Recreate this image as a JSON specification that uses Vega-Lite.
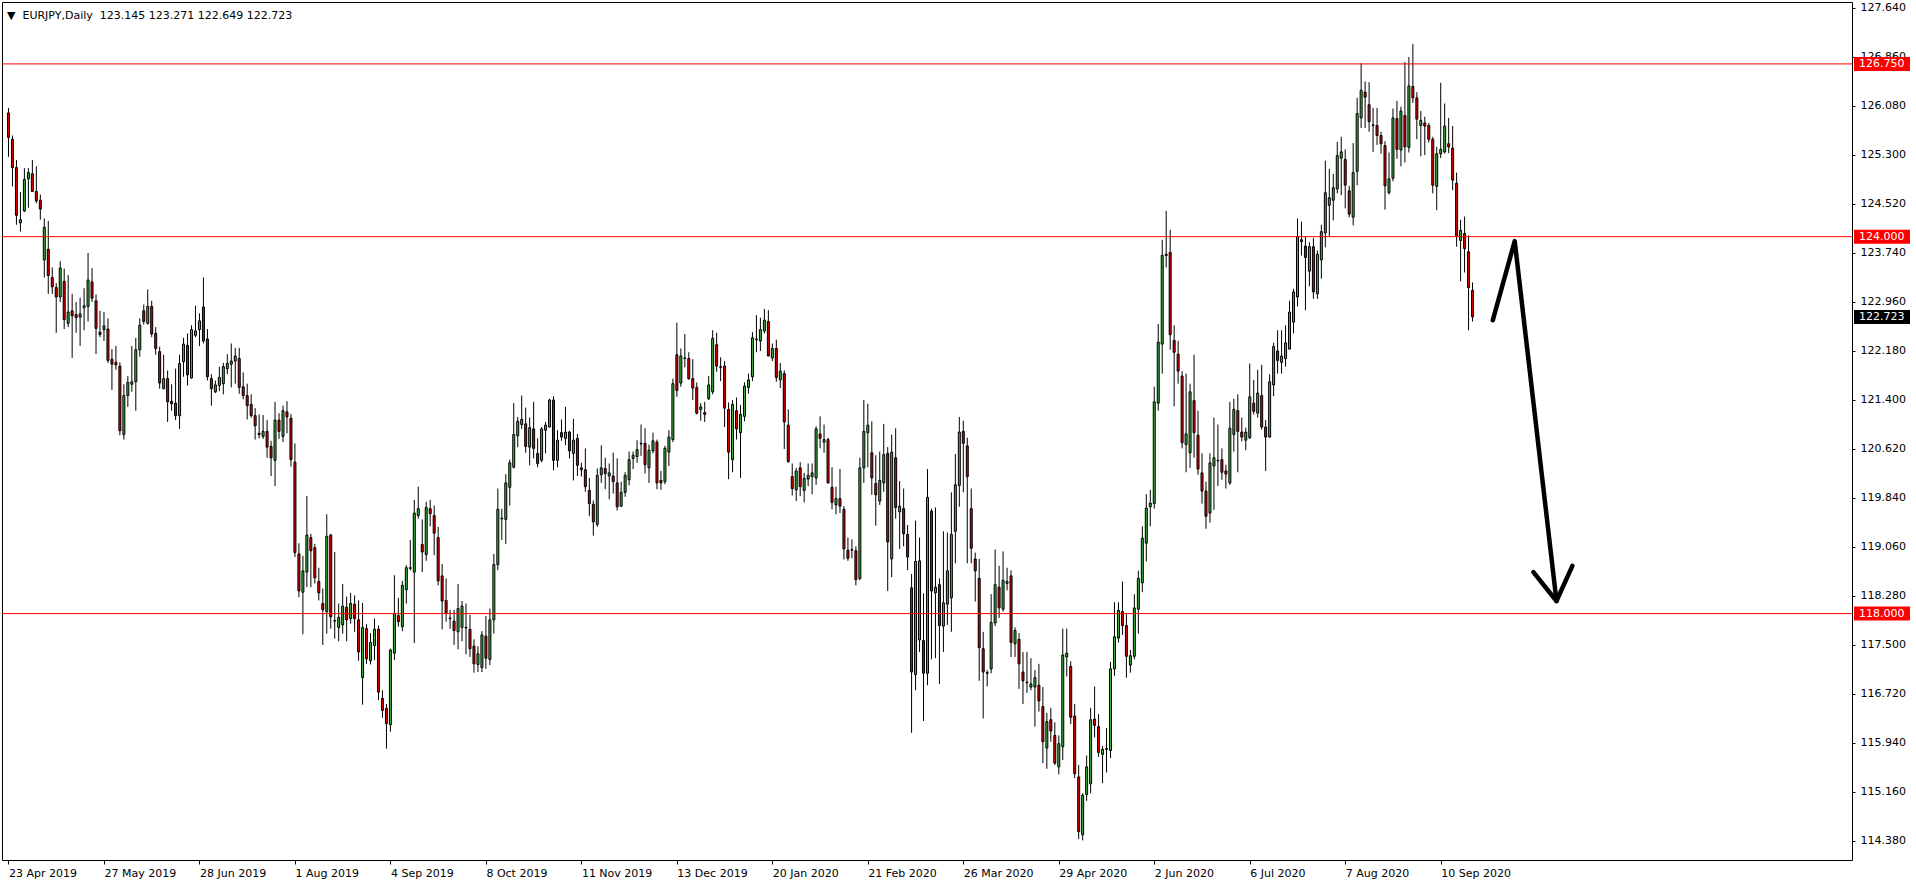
{
"$schema": "https://vega.github.io/schema/vega-lite/v6.json",
"width": 1850,
"height": 858,
"autosize": {"type": "none"},
"padding": {"left": 2, "top": 2, "right": 64, "bottom": 24},
"background": "#ffffff",
"config": {"view": {"stroke": "#000000", "strokeWidth": 1}, "font": "DejaVu Sans"},
"title": {"text": "\u25bc\u00a0\u00a0EURJPY,Daily\u00a0\u00a0123.145 123.271 122.649 122.723", "anchor": "start", "frame": "group", "orient": "top", "offset": -15, "dx": 5, "dy": 13, "baseline": "alphabetic", "font": "DejaVu Sans", "fontSize": 11, "fontWeight": "normal", "color": "#000000"},
"datasets": {
"bars": [
{"d":"2019-04-23","o":125.97,"h":126.05,"l":125.27,"c":125.58},
{"d":"2019-04-24","o":125.55,"h":125.61,"l":124.80,"c":125.10},
{"d":"2019-04-25","o":125.10,"h":125.22,"l":124.19,"c":124.34},
{"d":"2019-04-26","o":124.22,"h":124.71,"l":124.08,"c":124.27},
{"d":"2019-04-29","o":124.41,"h":125.09,"l":124.39,"c":124.91},
{"d":"2019-04-30","o":124.92,"h":125.09,"l":124.46,"c":125.02},
{"d":"2019-05-01","o":125.00,"h":125.22,"l":124.71,"c":124.72},
{"d":"2019-05-02","o":124.72,"h":125.12,"l":124.53,"c":124.57},
{"d":"2019-05-03","o":124.58,"h":124.67,"l":124.27,"c":124.44},
{"d":"2019-05-06","o":123.63,"h":124.29,"l":123.35,"c":124.15},
{"d":"2019-05-07","o":123.80,"h":124.25,"l":123.09,"c":123.38},
{"d":"2019-05-08","o":123.35,"h":123.51,"l":123.09,"c":123.20},
{"d":"2019-05-09","o":123.19,"h":123.26,"l":122.47,"c":123.04},
{"d":"2019-05-10","o":123.04,"h":123.61,"l":122.96,"c":123.50},
{"d":"2019-05-13","o":123.29,"h":123.49,"l":122.53,"c":122.68},
{"d":"2019-05-14","o":122.62,"h":123.39,"l":122.56,"c":122.80},
{"d":"2019-05-15","o":122.82,"h":123.09,"l":122.07,"c":122.74},
{"d":"2019-05-16","o":122.76,"h":122.96,"l":122.47,"c":122.71},
{"d":"2019-05-17","o":122.72,"h":123.03,"l":122.26,"c":122.77},
{"d":"2019-05-20","o":122.87,"h":123.18,"l":122.51,"c":122.90},
{"d":"2019-05-21","o":122.89,"h":123.74,"l":122.65,"c":123.31},
{"d":"2019-05-22","o":123.28,"h":123.50,"l":122.96,"c":123.02},
{"d":"2019-05-23","o":122.98,"h":123.08,"l":122.13,"c":122.54},
{"d":"2019-05-24","o":122.48,"h":122.82,"l":122.40,"c":122.44},
{"d":"2019-05-27","o":122.52,"h":122.80,"l":122.34,"c":122.58},
{"d":"2019-05-28","o":122.53,"h":122.70,"l":121.99,"c":122.03},
{"d":"2019-05-29","o":122.05,"h":122.21,"l":121.56,"c":121.97},
{"d":"2019-05-30","o":122.00,"h":122.26,"l":121.88,"c":121.96},
{"d":"2019-05-31","o":121.94,"h":122.00,"l":120.84,"c":120.91},
{"d":"2019-06-03","o":120.85,"h":121.65,"l":120.77,"c":121.47},
{"d":"2019-06-04","o":121.47,"h":121.78,"l":121.29,"c":121.68},
{"d":"2019-06-05","o":121.65,"h":122.26,"l":121.53,"c":121.69},
{"d":"2019-06-06","o":121.69,"h":122.39,"l":121.23,"c":122.20},
{"d":"2019-06-07","o":122.20,"h":122.70,"l":122.09,"c":122.59},
{"d":"2019-06-10","o":122.82,"h":122.92,"l":122.60,"c":122.65},
{"d":"2019-06-11","o":122.62,"h":123.16,"l":122.60,"c":122.89},
{"d":"2019-06-12","o":122.89,"h":122.98,"l":122.40,"c":122.45},
{"d":"2019-06-13","o":122.46,"h":122.56,"l":122.12,"c":122.22},
{"d":"2019-06-14","o":122.17,"h":122.25,"l":121.58,"c":121.67},
{"d":"2019-06-17","o":121.58,"h":122.12,"l":121.57,"c":121.74},
{"d":"2019-06-18","o":121.74,"h":121.87,"l":121.05,"c":121.37},
{"d":"2019-06-19","o":121.38,"h":121.65,"l":121.23,"c":121.34},
{"d":"2019-06-20","o":121.35,"h":121.90,"l":121.08,"c":121.15},
{"d":"2019-06-21","o":121.15,"h":122.12,"l":120.94,"c":121.98},
{"d":"2019-06-24","o":122.01,"h":122.39,"l":121.77,"c":122.29},
{"d":"2019-06-25","o":122.27,"h":122.46,"l":121.63,"c":121.80},
{"d":"2019-06-26","o":121.75,"h":122.59,"l":121.74,"c":122.52},
{"d":"2019-06-27","o":122.43,"h":122.90,"l":122.40,"c":122.50},
{"d":"2019-06-28","o":122.52,"h":122.78,"l":122.26,"c":122.66},
{"d":"2019-07-01","o":122.88,"h":123.35,"l":122.30,"c":122.34},
{"d":"2019-07-02","o":122.37,"h":122.53,"l":121.71,"c":121.77},
{"d":"2019-07-03","o":121.74,"h":121.81,"l":121.31,"c":121.58},
{"d":"2019-07-04","o":121.53,"h":121.71,"l":121.51,"c":121.64},
{"d":"2019-07-05","o":121.63,"h":121.93,"l":121.54,"c":121.76},
{"d":"2019-07-08","o":121.66,"h":121.99,"l":121.49,"c":121.93},
{"d":"2019-07-09","o":121.90,"h":122.13,"l":121.81,"c":121.98},
{"d":"2019-07-10","o":121.97,"h":122.30,"l":121.60,"c":122.02},
{"d":"2019-07-11","o":122.02,"h":122.23,"l":121.66,"c":122.10},
{"d":"2019-07-12","o":122.06,"h":122.23,"l":121.50,"c":121.60},
{"d":"2019-07-15","o":121.61,"h":121.84,"l":121.41,"c":121.47},
{"d":"2019-07-16","o":121.47,"h":121.66,"l":121.09,"c":121.31},
{"d":"2019-07-17","o":121.33,"h":121.49,"l":121.12,"c":121.15},
{"d":"2019-07-18","o":121.15,"h":121.27,"l":120.77,"c":120.99},
{"d":"2019-07-19","o":120.87,"h":121.17,"l":120.79,"c":120.85},
{"d":"2019-07-22","o":120.82,"h":121.16,"l":120.78,"c":120.90},
{"d":"2019-07-23","o":120.90,"h":121.08,"l":120.48,"c":120.65},
{"d":"2019-07-24","o":120.66,"h":120.75,"l":120.19,"c":120.48},
{"d":"2019-07-25","o":120.44,"h":121.37,"l":120.03,"c":121.08},
{"d":"2019-07-26","o":121.08,"h":121.19,"l":120.78,"c":120.90},
{"d":"2019-07-29","o":120.82,"h":121.31,"l":120.73,"c":121.23},
{"d":"2019-07-30","o":121.21,"h":121.38,"l":120.87,"c":121.13},
{"d":"2019-07-31","o":121.11,"h":121.18,"l":120.34,"c":120.45},
{"d":"2019-08-01","o":120.41,"h":120.71,"l":118.90,"c":118.97},
{"d":"2019-08-02","o":118.95,"h":119.12,"l":118.26,"c":118.36},
{"d":"2019-08-05","o":118.34,"h":118.92,"l":117.67,"c":118.68},
{"d":"2019-08-06","o":118.66,"h":119.87,"l":118.42,"c":119.25},
{"d":"2019-08-07","o":119.21,"h":119.27,"l":118.42,"c":119.00},
{"d":"2019-08-08","o":119.05,"h":119.11,"l":118.48,"c":118.57},
{"d":"2019-08-09","o":118.51,"h":118.73,"l":118.21,"c":118.33},
{"d":"2019-08-12","o":118.16,"h":118.40,"l":117.50,"c":118.06},
{"d":"2019-08-13","o":118.03,"h":119.58,"l":117.68,"c":119.23},
{"d":"2019-08-14","o":119.25,"h":119.27,"l":117.76,"c":117.95},
{"d":"2019-08-15","o":117.89,"h":118.98,"l":117.60,"c":117.88},
{"d":"2019-08-16","o":117.78,"h":118.16,"l":117.56,"c":117.94},
{"d":"2019-08-19","o":117.82,"h":118.47,"l":117.68,"c":118.12},
{"d":"2019-08-20","o":118.10,"h":118.27,"l":117.56,"c":117.90},
{"d":"2019-08-21","o":117.92,"h":118.33,"l":117.84,"c":118.16},
{"d":"2019-08-22","o":118.15,"h":118.29,"l":117.71,"c":117.92},
{"d":"2019-08-23","o":117.90,"h":118.21,"l":117.25,"c":117.39},
{"d":"2019-08-26","o":116.98,"h":118.17,"l":116.55,"c":117.78},
{"d":"2019-08-27","o":117.76,"h":117.83,"l":117.20,"c":117.28},
{"d":"2019-08-28","o":117.25,"h":117.69,"l":117.19,"c":117.54},
{"d":"2019-08-29","o":117.49,"h":117.92,"l":117.26,"c":117.75},
{"d":"2019-08-30","o":117.75,"h":117.81,"l":116.62,"c":116.75},
{"d":"2019-09-02","o":116.65,"h":116.78,"l":116.34,"c":116.46},
{"d":"2019-09-03","o":116.49,"h":116.56,"l":115.85,"c":116.25},
{"d":"2019-09-04","o":116.23,"h":117.44,"l":116.12,"c":117.42},
{"d":"2019-09-05","o":117.37,"h":118.61,"l":117.26,"c":118.00},
{"d":"2019-09-06","o":117.97,"h":118.25,"l":117.79,"c":117.87},
{"d":"2019-09-09","o":117.79,"h":118.52,"l":117.72,"c":118.45},
{"d":"2019-09-10","o":118.38,"h":118.77,"l":118.16,"c":118.73},
{"d":"2019-09-11","o":118.72,"h":119.17,"l":118.69,"c":118.73},
{"d":"2019-09-12","o":118.66,"h":119.81,"l":117.53,"c":119.60},
{"d":"2019-09-13","o":119.56,"h":120.02,"l":119.51,"c":119.67},
{"d":"2019-09-16","o":119.10,"h":119.50,"l":118.66,"c":118.98},
{"d":"2019-09-17","o":118.94,"h":119.78,"l":118.84,"c":119.69},
{"d":"2019-09-18","o":119.67,"h":119.81,"l":119.39,"c":119.59},
{"d":"2019-09-19","o":119.56,"h":119.72,"l":118.93,"c":119.28},
{"d":"2019-09-20","o":119.21,"h":119.38,"l":118.45,"c":118.52},
{"d":"2019-09-23","o":118.60,"h":118.79,"l":117.75,"c":118.20},
{"d":"2019-09-24","o":118.21,"h":118.56,"l":117.87,"c":118.00},
{"d":"2019-09-25","o":117.93,"h":118.06,"l":117.76,"c":117.92},
{"d":"2019-09-26","o":117.88,"h":118.06,"l":117.50,"c":117.73},
{"d":"2019-09-27","o":117.71,"h":118.47,"l":117.43,"c":118.08},
{"d":"2019-09-30","o":117.78,"h":118.20,"l":117.56,"c":118.12},
{"d":"2019-10-01","o":117.78,"h":118.16,"l":117.35,"c":117.77},
{"d":"2019-10-02","o":117.75,"h":117.98,"l":117.31,"c":117.44},
{"d":"2019-10-03","o":117.48,"h":117.59,"l":117.06,"c":117.20},
{"d":"2019-10-04","o":117.19,"h":117.48,"l":117.07,"c":117.36},
{"d":"2019-10-07","o":117.14,"h":117.72,"l":117.07,"c":117.66},
{"d":"2019-10-08","o":117.64,"h":117.96,"l":117.12,"c":117.29},
{"d":"2019-10-09","o":117.27,"h":118.08,"l":117.18,"c":117.90},
{"d":"2019-10-10","o":117.90,"h":118.95,"l":117.68,"c":118.78},
{"d":"2019-10-11","o":118.78,"h":119.99,"l":118.69,"c":119.66},
{"d":"2019-10-14","o":119.51,"h":119.67,"l":119.17,"c":119.52},
{"d":"2019-10-15","o":119.50,"h":120.22,"l":119.11,"c":120.08},
{"d":"2019-10-16","o":120.01,"h":120.45,"l":119.72,"c":120.40},
{"d":"2019-10-17","o":120.33,"h":121.35,"l":120.31,"c":120.85},
{"d":"2019-10-18","o":120.83,"h":121.13,"l":120.65,"c":121.06},
{"d":"2019-10-21","o":121.01,"h":121.47,"l":120.94,"c":121.09},
{"d":"2019-10-22","o":121.02,"h":121.28,"l":120.56,"c":120.66},
{"d":"2019-10-23","o":120.65,"h":121.12,"l":120.36,"c":120.96},
{"d":"2019-10-24","o":120.94,"h":121.37,"l":120.47,"c":120.63},
{"d":"2019-10-25","o":120.55,"h":120.79,"l":120.33,"c":120.39},
{"d":"2019-10-28","o":120.44,"h":120.97,"l":120.41,"c":120.94},
{"d":"2019-10-29","o":120.92,"h":121.05,"l":120.55,"c":121.00},
{"d":"2019-10-30","o":120.97,"h":121.42,"l":120.96,"c":121.40},
{"d":"2019-10-31","o":121.40,"h":121.46,"l":120.28,"c":120.44},
{"d":"2019-11-01","o":120.44,"h":120.92,"l":120.33,"c":120.76},
{"d":"2019-11-04","o":120.88,"h":121.09,"l":120.75,"c":120.81},
{"d":"2019-11-05","o":120.79,"h":121.29,"l":120.68,"c":120.89},
{"d":"2019-11-06","o":120.89,"h":120.91,"l":120.47,"c":120.59},
{"d":"2019-11-07","o":120.55,"h":121.10,"l":120.12,"c":120.76},
{"d":"2019-11-08","o":120.79,"h":120.86,"l":120.19,"c":120.36},
{"d":"2019-11-11","o":120.32,"h":120.40,"l":120.18,"c":120.29},
{"d":"2019-11-12","o":120.29,"h":120.63,"l":119.94,"c":120.02},
{"d":"2019-11-13","o":119.96,"h":120.16,"l":119.55,"c":119.75},
{"d":"2019-11-14","o":119.74,"h":119.80,"l":119.24,"c":119.46},
{"d":"2019-11-15","o":119.42,"h":120.31,"l":119.38,"c":120.20},
{"d":"2019-11-18","o":120.21,"h":120.68,"l":120.08,"c":120.32},
{"d":"2019-11-19","o":120.31,"h":120.48,"l":119.98,"c":120.23},
{"d":"2019-11-20","o":120.19,"h":120.39,"l":119.82,"c":120.24},
{"d":"2019-11-21","o":120.19,"h":120.56,"l":119.91,"c":120.10},
{"d":"2019-11-22","o":120.08,"h":120.47,"l":119.64,"c":119.70},
{"d":"2019-11-25","o":119.71,"h":120.10,"l":119.70,"c":119.93},
{"d":"2019-11-26","o":119.93,"h":120.25,"l":119.86,"c":120.20},
{"d":"2019-11-27","o":120.13,"h":120.58,"l":120.04,"c":120.45},
{"d":"2019-11-28","o":120.47,"h":120.58,"l":120.30,"c":120.52},
{"d":"2019-11-29","o":120.50,"h":120.76,"l":120.40,"c":120.61},
{"d":"2019-12-02","o":120.70,"h":121.01,"l":120.51,"c":120.71},
{"d":"2019-12-03","o":120.71,"h":120.95,"l":120.23,"c":120.37},
{"d":"2019-12-04","o":120.32,"h":120.69,"l":120.08,"c":120.60},
{"d":"2019-12-05","o":120.59,"h":120.88,"l":120.55,"c":120.75},
{"d":"2019-12-06","o":120.73,"h":120.77,"l":119.98,"c":120.08},
{"d":"2019-12-09","o":120.12,"h":120.27,"l":119.97,"c":120.08},
{"d":"2019-12-10","o":120.10,"h":120.67,"l":120.06,"c":120.63},
{"d":"2019-12-11","o":120.57,"h":120.92,"l":120.35,"c":120.81},
{"d":"2019-12-12","o":120.77,"h":121.74,"l":120.73,"c":121.66},
{"d":"2019-12-13","o":122.12,"h":122.63,"l":121.45,"c":121.55},
{"d":"2019-12-16","o":121.67,"h":122.22,"l":121.61,"c":122.10},
{"d":"2019-12-17","o":122.06,"h":122.45,"l":121.92,"c":122.07},
{"d":"2019-12-18","o":122.06,"h":122.16,"l":121.72,"c":121.74},
{"d":"2019-12-19","o":121.74,"h":122.05,"l":121.40,"c":121.59},
{"d":"2019-12-20","o":121.60,"h":121.68,"l":121.17,"c":121.19},
{"d":"2019-12-23","o":121.25,"h":121.35,"l":121.07,"c":121.29},
{"d":"2019-12-24","o":121.20,"h":121.37,"l":121.05,"c":121.17},
{"d":"2019-12-26","o":121.42,"h":121.78,"l":121.40,"c":121.64},
{"d":"2019-12-27","o":121.53,"h":122.51,"l":121.49,"c":122.38},
{"d":"2019-12-30","o":122.28,"h":122.47,"l":121.85,"c":121.94},
{"d":"2019-12-31","o":121.93,"h":122.08,"l":121.70,"c":121.92},
{"d":"2020-01-02","o":121.94,"h":122.02,"l":120.97,"c":121.27},
{"d":"2020-01-03","o":121.25,"h":121.36,"l":120.14,"c":120.57},
{"d":"2020-01-06","o":120.45,"h":121.40,"l":120.25,"c":121.33},
{"d":"2020-01-07","o":121.23,"h":121.44,"l":120.77,"c":120.94},
{"d":"2020-01-08","o":120.88,"h":121.32,"l":120.16,"c":121.17},
{"d":"2020-01-09","o":121.14,"h":121.68,"l":121.06,"c":121.62},
{"d":"2020-01-10","o":121.60,"h":121.82,"l":121.50,"c":121.72},
{"d":"2020-01-13","o":121.77,"h":122.48,"l":121.70,"c":122.39},
{"d":"2020-01-14","o":122.36,"h":122.75,"l":122.16,"c":122.37},
{"d":"2020-01-15","o":122.34,"h":122.71,"l":122.18,"c":122.52},
{"d":"2020-01-16","o":122.50,"h":122.85,"l":122.46,"c":122.67},
{"d":"2020-01-17","o":122.65,"h":122.83,"l":122.10,"c":122.10},
{"d":"2020-01-20","o":122.07,"h":122.30,"l":122.02,"c":122.22},
{"d":"2020-01-21","o":122.22,"h":122.36,"l":121.69,"c":121.76},
{"d":"2020-01-22","o":121.72,"h":121.99,"l":121.59,"c":121.86},
{"d":"2020-01-23","o":121.82,"h":121.87,"l":120.62,"c":121.05},
{"d":"2020-01-24","o":121.00,"h":121.25,"l":120.40,"c":120.42},
{"d":"2020-01-27","o":120.18,"h":120.39,"l":119.88,"c":119.99},
{"d":"2020-01-28","o":119.97,"h":120.32,"l":119.79,"c":120.27},
{"d":"2020-01-29","o":120.32,"h":120.41,"l":119.87,"c":120.02},
{"d":"2020-01-30","o":119.96,"h":120.24,"l":119.77,"c":120.15},
{"d":"2020-01-31","o":120.14,"h":120.39,"l":120.03,"c":120.20},
{"d":"2020-02-03","o":120.18,"h":120.39,"l":119.90,"c":120.24},
{"d":"2020-02-04","o":120.16,"h":120.98,"l":120.05,"c":120.94},
{"d":"2020-02-05","o":120.86,"h":121.14,"l":120.63,"c":120.79},
{"d":"2020-02-06","o":120.73,"h":121.01,"l":120.56,"c":120.77},
{"d":"2020-02-07","o":120.77,"h":120.80,"l":120.07,"c":120.08},
{"d":"2020-02-10","o":120.01,"h":120.33,"l":119.66,"c":119.77},
{"d":"2020-02-11","o":119.73,"h":120.02,"l":119.58,"c":119.83},
{"d":"2020-02-12","o":119.83,"h":120.30,"l":119.60,"c":119.71},
{"d":"2020-02-13","o":119.66,"h":119.71,"l":118.86,"c":119.03},
{"d":"2020-02-14","o":119.01,"h":119.21,"l":118.84,"c":118.88},
{"d":"2020-02-17","o":119.01,"h":119.18,"l":118.88,"c":119.02},
{"d":"2020-02-18","o":119.00,"h":119.07,"l":118.45,"c":118.54},
{"d":"2020-02-19","o":118.56,"h":120.48,"l":118.53,"c":120.32},
{"d":"2020-02-20","o":120.32,"h":121.40,"l":120.08,"c":120.90},
{"d":"2020-02-21","o":120.88,"h":121.34,"l":120.33,"c":121.00},
{"d":"2020-02-24","o":120.56,"h":121.06,"l":119.89,"c":120.16},
{"d":"2020-02-25","o":120.07,"h":120.52,"l":119.40,"c":119.89},
{"d":"2020-02-26","o":119.79,"h":120.58,"l":119.73,"c":120.12},
{"d":"2020-02-27","o":120.08,"h":121.02,"l":119.94,"c":120.53},
{"d":"2020-02-28","o":120.55,"h":120.65,"l":118.36,"c":119.14},
{"d":"2020-03-02","o":118.87,"h":120.85,"l":118.58,"c":120.57},
{"d":"2020-03-03","o":120.48,"h":120.95,"l":119.51,"c":119.69},
{"d":"2020-03-04","o":119.62,"h":120.11,"l":119.03,"c":119.71},
{"d":"2020-03-05","o":119.67,"h":119.99,"l":119.07,"c":119.27},
{"d":"2020-03-06","o":119.26,"h":119.41,"l":118.69,"c":118.90},
{"d":"2020-03-09","o":118.41,"h":118.63,"l":116.10,"c":117.07},
{"d":"2020-03-10","o":117.03,"h":119.48,"l":116.78,"c":118.83},
{"d":"2020-03-11","o":117.58,"h":119.21,"l":117.39,"c":118.84},
{"d":"2020-03-12","o":117.57,"h":118.32,"l":116.29,"c":117.05},
{"d":"2020-03-13","o":117.05,"h":120.30,"l":116.86,"c":119.85},
{"d":"2020-03-16","o":119.63,"h":119.67,"l":117.27,"c":118.36},
{"d":"2020-03-17","o":118.33,"h":119.69,"l":117.29,"c":118.42},
{"d":"2020-03-18","o":118.46,"h":118.56,"l":116.88,"c":117.81},
{"d":"2020-03-19","o":117.80,"h":119.31,"l":117.39,"c":118.17},
{"d":"2020-03-20","o":118.15,"h":119.29,"l":117.82,"c":118.68},
{"d":"2020-03-23","o":118.25,"h":119.93,"l":117.71,"c":119.26},
{"d":"2020-03-24","o":119.31,"h":120.54,"l":118.80,"c":120.05},
{"d":"2020-03-25","o":120.04,"h":121.13,"l":119.70,"c":120.89},
{"d":"2020-03-26","o":120.90,"h":121.07,"l":119.93,"c":120.71},
{"d":"2020-03-27","o":120.67,"h":120.80,"l":118.80,"c":120.18},
{"d":"2020-03-30","o":119.67,"h":119.99,"l":118.80,"c":119.04},
{"d":"2020-03-31","o":118.87,"h":118.97,"l":118.19,"c":118.68},
{"d":"2020-04-01","o":118.56,"h":118.87,"l":116.93,"c":117.46},
{"d":"2020-04-02","o":117.44,"h":117.71,"l":116.33,"c":117.07},
{"d":"2020-04-03","o":117.06,"h":117.10,"l":116.84,"c":117.05},
{"d":"2020-04-06","o":117.12,"h":118.31,"l":117.05,"c":117.86},
{"d":"2020-04-07","o":117.85,"h":119.02,"l":117.80,"c":118.46},
{"d":"2020-04-08","o":118.42,"h":118.76,"l":117.93,"c":118.09},
{"d":"2020-04-09","o":118.07,"h":118.99,"l":118.03,"c":118.53},
{"d":"2020-04-10","o":118.48,"h":118.73,"l":118.37,"c":118.51},
{"d":"2020-04-13","o":118.60,"h":118.69,"l":117.31,"c":117.54},
{"d":"2020-04-14","o":117.52,"h":117.78,"l":117.31,"c":117.73},
{"d":"2020-04-15","o":117.59,"h":117.69,"l":116.80,"c":117.20},
{"d":"2020-04-16","o":117.07,"h":117.39,"l":116.56,"c":116.93},
{"d":"2020-04-17","o":116.91,"h":117.39,"l":116.74,"c":116.90},
{"d":"2020-04-20","o":116.83,"h":117.29,"l":116.78,"c":116.88},
{"d":"2020-04-21","o":116.83,"h":117.10,"l":116.20,"c":116.98},
{"d":"2020-04-22","o":116.86,"h":117.20,"l":116.44,"c":116.61},
{"d":"2020-04-23","o":116.52,"h":116.83,"l":115.62,"c":115.96},
{"d":"2020-04-24","o":115.86,"h":116.42,"l":115.53,"c":116.28},
{"d":"2020-04-27","o":116.31,"h":116.50,"l":115.96,"c":116.13},
{"d":"2020-04-28","o":116.06,"h":116.27,"l":115.59,"c":115.62},
{"d":"2020-04-29","o":115.56,"h":116.06,"l":115.44,"c":115.93},
{"d":"2020-04-30","o":115.88,"h":117.76,"l":115.67,"c":117.34},
{"d":"2020-05-01","o":117.31,"h":117.76,"l":117.00,"c":117.37},
{"d":"2020-05-04","o":117.16,"h":117.24,"l":116.24,"c":116.35},
{"d":"2020-05-05","o":116.37,"h":116.56,"l":115.38,"c":115.45},
{"d":"2020-05-06","o":115.40,"h":115.59,"l":114.41,"c":114.53},
{"d":"2020-05-07","o":114.48,"h":115.14,"l":114.39,"c":115.11},
{"d":"2020-05-08","o":115.12,"h":115.74,"l":115.02,"c":115.56},
{"d":"2020-05-11","o":115.29,"h":116.50,"l":115.14,"c":116.31},
{"d":"2020-05-12","o":116.32,"h":116.84,"l":116.03,"c":116.22},
{"d":"2020-05-13","o":116.20,"h":116.40,"l":115.72,"c":115.79},
{"d":"2020-05-14","o":115.76,"h":115.89,"l":115.30,"c":115.84},
{"d":"2020-05-15","o":115.85,"h":116.18,"l":115.47,"c":115.84},
{"d":"2020-05-18","o":115.82,"h":117.23,"l":115.70,"c":117.12},
{"d":"2020-05-19","o":117.12,"h":118.18,"l":117.01,"c":117.63},
{"d":"2020-05-20","o":117.61,"h":118.18,"l":117.54,"c":118.05},
{"d":"2020-05-21","o":118.03,"h":118.51,"l":117.66,"c":117.81},
{"d":"2020-05-22","o":117.81,"h":117.99,"l":116.98,"c":117.32},
{"d":"2020-05-25","o":117.18,"h":117.42,"l":117.06,"c":117.33},
{"d":"2020-05-26","o":117.32,"h":118.31,"l":117.27,"c":118.09},
{"d":"2020-05-27","o":118.07,"h":118.68,"l":117.68,"c":118.56},
{"d":"2020-05-28","o":118.49,"h":119.39,"l":118.34,"c":119.20},
{"d":"2020-05-29","o":119.12,"h":119.90,"l":118.83,"c":119.68},
{"d":"2020-06-01","o":119.70,"h":119.97,"l":119.39,"c":119.76},
{"d":"2020-06-02","o":119.75,"h":121.61,"l":119.67,"c":121.37},
{"d":"2020-06-03","o":121.35,"h":122.61,"l":121.23,"c":122.32},
{"d":"2020-06-04","o":122.29,"h":123.95,"l":121.82,"c":123.70},
{"d":"2020-06-05","o":123.70,"h":124.41,"l":123.51,"c":123.72},
{"d":"2020-06-08","o":123.75,"h":124.11,"l":122.20,"c":122.44},
{"d":"2020-06-09","o":122.35,"h":122.59,"l":121.30,"c":122.16},
{"d":"2020-06-10","o":122.13,"h":122.34,"l":121.66,"c":121.86},
{"d":"2020-06-11","o":121.78,"h":121.86,"l":120.63,"c":120.72},
{"d":"2020-06-12","o":120.69,"h":121.82,"l":120.25,"c":120.86},
{"d":"2020-06-15","o":120.56,"h":121.66,"l":120.32,"c":121.53},
{"d":"2020-06-16","o":121.39,"h":122.12,"l":120.48,"c":120.88},
{"d":"2020-06-17","o":120.84,"h":121.23,"l":120.21,"c":120.30},
{"d":"2020-06-18","o":120.24,"h":120.55,"l":119.75,"c":119.95},
{"d":"2020-06-19","o":119.95,"h":120.10,"l":119.35,"c":119.55},
{"d":"2020-06-22","o":119.60,"h":120.55,"l":119.45,"c":120.40},
{"d":"2020-06-23","o":120.35,"h":121.12,"l":119.65,"c":120.48},
{"d":"2020-06-24","o":120.44,"h":121.01,"l":120.03,"c":120.43},
{"d":"2020-06-25","o":120.45,"h":120.63,"l":120.13,"c":120.25},
{"d":"2020-06-26","o":120.27,"h":120.37,"l":119.99,"c":120.22},
{"d":"2020-06-29","o":120.08,"h":121.37,"l":120.05,"c":120.95},
{"d":"2020-06-30","o":120.85,"h":121.42,"l":120.58,"c":121.25},
{"d":"2020-07-01","o":121.23,"h":121.49,"l":120.25,"c":120.90},
{"d":"2020-07-02","o":120.89,"h":121.12,"l":120.74,"c":120.81},
{"d":"2020-07-03","o":120.76,"h":120.96,"l":120.60,"c":120.89},
{"d":"2020-07-06","o":120.80,"h":121.98,"l":120.78,"c":121.45},
{"d":"2020-07-07","o":121.35,"h":121.72,"l":121.17,"c":121.22},
{"d":"2020-07-08","o":121.19,"h":121.88,"l":121.12,"c":121.51},
{"d":"2020-07-09","o":121.47,"h":121.96,"l":120.93,"c":120.97},
{"d":"2020-07-10","o":120.97,"h":121.08,"l":120.27,"c":120.81},
{"d":"2020-07-13","o":120.81,"h":121.81,"l":120.80,"c":121.69},
{"d":"2020-07-14","o":121.64,"h":122.31,"l":121.46,"c":122.25},
{"d":"2020-07-15","o":122.18,"h":122.51,"l":121.82,"c":122.03},
{"d":"2020-07-16","o":122.00,"h":122.51,"l":121.82,"c":122.10},
{"d":"2020-07-17","o":122.06,"h":122.59,"l":121.93,"c":122.31},
{"d":"2020-07-20","o":122.21,"h":122.98,"l":122.21,"c":122.80},
{"d":"2020-07-21","o":122.64,"h":123.17,"l":122.46,"c":123.12},
{"d":"2020-07-22","o":123.04,"h":124.29,"l":122.89,"c":124.00},
{"d":"2020-07-23","o":123.95,"h":124.24,"l":123.70,"c":123.92},
{"d":"2020-07-24","o":123.85,"h":124.00,"l":122.83,"c":123.67},
{"d":"2020-07-27","o":123.45,"h":123.91,"l":123.21,"c":123.84},
{"d":"2020-07-28","o":123.84,"h":123.98,"l":123.01,"c":123.12},
{"d":"2020-07-29","o":123.09,"h":123.78,"l":123.01,"c":123.72},
{"d":"2020-07-30","o":123.63,"h":124.19,"l":123.33,"c":124.08},
{"d":"2020-07-31","o":124.06,"h":125.21,"l":123.83,"c":124.70},
{"d":"2020-08-03","o":124.50,"h":125.08,"l":124.00,"c":124.62},
{"d":"2020-08-04","o":124.58,"h":125.00,"l":124.26,"c":124.78},
{"d":"2020-08-05","o":124.76,"h":125.51,"l":124.69,"c":125.29},
{"d":"2020-08-06","o":125.25,"h":125.59,"l":124.66,"c":125.35},
{"d":"2020-08-07","o":125.23,"h":125.39,"l":124.45,"c":124.82},
{"d":"2020-08-10","o":124.73,"h":124.81,"l":124.31,"c":124.36},
{"d":"2020-08-11","o":124.31,"h":125.49,"l":124.18,"c":125.02},
{"d":"2020-08-12","o":125.04,"h":126.21,"l":124.82,"c":125.96},
{"d":"2020-08-13","o":125.89,"h":126.76,"l":125.73,"c":126.33},
{"d":"2020-08-14","o":126.30,"h":126.47,"l":125.73,"c":126.22},
{"d":"2020-08-17","o":126.10,"h":126.46,"l":125.67,"c":125.83},
{"d":"2020-08-18","o":125.78,"h":126.05,"l":125.35,"c":125.77},
{"d":"2020-08-19","o":125.77,"h":126.05,"l":125.46,"c":125.61},
{"d":"2020-08-20","o":125.61,"h":125.67,"l":125.32,"c":125.48},
{"d":"2020-08-21","o":125.45,"h":125.52,"l":124.43,"c":124.81},
{"d":"2020-08-24","o":124.70,"h":125.34,"l":124.67,"c":124.92},
{"d":"2020-08-25","o":124.93,"h":126.04,"l":124.88,"c":125.89},
{"d":"2020-08-26","o":125.88,"h":126.16,"l":125.24,"c":125.39},
{"d":"2020-08-27","o":125.38,"h":126.07,"l":125.12,"c":126.00},
{"d":"2020-08-28","o":125.93,"h":126.78,"l":125.18,"c":125.43},
{"d":"2020-08-31","o":125.42,"h":126.86,"l":125.34,"c":126.40},
{"d":"2020-09-01","o":126.39,"h":127.07,"l":126.13,"c":126.21},
{"d":"2020-09-02","o":126.21,"h":126.30,"l":125.55,"c":125.87},
{"d":"2020-09-03","o":125.77,"h":126.00,"l":125.28,"c":125.85},
{"d":"2020-09-04","o":125.81,"h":125.91,"l":125.30,"c":125.76},
{"d":"2020-09-07","o":125.77,"h":125.81,"l":125.50,"c":125.55},
{"d":"2020-09-08","o":125.55,"h":125.59,"l":124.69,"c":124.82},
{"d":"2020-09-09","o":124.80,"h":125.43,"l":124.42,"c":125.32},
{"d":"2020-09-10","o":125.32,"h":126.45,"l":125.25,"c":125.39},
{"d":"2020-09-11","o":125.35,"h":126.12,"l":125.32,"c":125.76},
{"d":"2020-09-14","o":125.48,"h":125.89,"l":125.33,"c":125.43},
{"d":"2020-09-15","o":125.41,"h":125.76,"l":124.74,"c":124.90},
{"d":"2020-09-16","o":124.85,"h":125.02,"l":123.84,"c":124.01},
{"d":"2020-09-17","o":123.94,"h":124.27,"l":123.29,"c":124.10},
{"d":"2020-09-18","o":124.05,"h":124.32,"l":123.43,"c":123.81},
{"d":"2020-09-21","o":123.76,"h":124.02,"l":122.51,"c":123.19},
{"d":"2020-09-22","o":123.145,"h":123.271,"l":122.649,"c":122.723}
],
"levels": [
{"p":126.75,"kind":"level"},
{"p":124.0,"kind":"level"},
{"p":118.0,"kind":"level"},
{"p":122.723,"kind":"last"}
],
"arrow": [
{"seg":"shaft","k":1,"n":374.1,"p":122.67},
{"seg":"shaft","k":2,"n":379.6,"p":123.93},
{"seg":"shaft","k":3,"n":390.1,"p":118.20},
{"seg":"head","k":1,"n":384.3,"p":118.66},
{"seg":"head","k":2,"n":390.1,"p":118.20},
{"seg":"head","k":3,"n":394.1,"p":118.76}
]
},
"layer": [
{
"data": {"name": "bars"},
"transform": [{"window": [{"op": "row_number", "as": "n"}], "sort": [{"field": "d"}]}],
"layer": [
{
"mark": {"type": "rule", "color": "#000000", "strokeWidth": 1},
"encoding": {
"x": {"field": "n", "type": "quantitative",
 "scale": {"domain": [0.625, 463.125], "nice": false, "zero": false},
 "axis": {"orient": "bottom", "title": null, "grid": false, "domain": false,
  "values": [1,25,49,73,97,121,145,169,193,217,241,265,289,313,337,361],
  "labelExpr": "['23 Apr 2019','27 May 2019','28 Jun 2019','1 Aug 2019','4 Sep 2019','8 Oct 2019','11 Nov 2019','13 Dec 2019','20 Jan 2020','21 Feb 2020','26 Mar 2020','29 Apr 2020','2 Jun 2020','6 Jul 2020','7 Aug 2020','10 Sep 2020'][round((datum.value-1)/24)]",
  "tickSize": 4, "tickColor": "#000000", "tickWidth": 1,
  "labelAlign": "left", "labelBaseline": "alphabetic", "labelPadding": 12, "labelDx": -1,
  "labelFont": "DejaVu Sans", "labelFontSize": 11, "labelColor": "#000000",
  "labelOverlap": false, "labelFlush": false, "labelBound": false}},
"y": {"field": "l", "type": "quantitative",
 "scale": {"domain": [114.0774, 127.7355], "nice": false, "zero": false},
 "axis": {"orient": "right", "title": null, "grid": false, "domain": false,
  "values": [114.38,115.16,115.94,116.72,117.5,118.28,119.06,119.84,120.62,121.4,122.18,122.96,123.74,124.52,125.3,126.08,126.86,127.64],
  "format": ".3f", "tickSize": 3, "tickColor": "#000000", "tickWidth": 1,
  "labelAlign": "left", "labelBaseline": "middle", "labelPadding": 5,
  "labelFont": "DejaVu Sans", "labelFontSize": 11, "labelColor": "#000000",
  "labelOverlap": false, "labelFlush": false, "labelBound": false}},
"y2": {"field": "h"}
}
},
{
"mark": {"type": "bar", "width": 2, "stroke": "#000000", "strokeWidth": 1},
"encoding": {
"x": {"field": "n", "type": "quantitative"},
"y": {"field": "o", "type": "quantitative"},
"y2": {"field": "c"},
"fill": {"condition": {"test": "datum.c >= datum.o", "value": "#3CB43C"}, "value": "#E00000"}
}
}
]
},
{
"data": {"name": "levels"},
"transform": [{"filter": "datum.kind == 'level'"}],
"mark": {"type": "rule", "color": "#FF0000", "strokeWidth": 1},
"encoding": {"y": {"field": "p", "type": "quantitative"}}
},
{
"data": {"name": "levels"},
"mark": {"type": "rule", "strokeWidth": 14, "strokeCap": "butt", "xOffset": 2, "x2Offset": 58, "clip": false},
"encoding": {
"x": {"value": "width"},
"x2": {"value": "width"},
"y": {"field": "p", "type": "quantitative"},
"color": {"field": "kind", "type": "nominal", "scale": {"domain": ["level", "last"], "range": ["#FF0000", "#000000"]}, "legend": null}
}
},
{
"data": {"name": "levels"},
"mark": {"type": "text", "align": "left", "baseline": "middle", "dx": 7, "font": "DejaVu Sans", "fontSize": 11, "color": "#FFFFFF", "clip": false},
"encoding": {
"x": {"value": "width"},
"y": {"field": "p", "type": "quantitative"},
"text": {"field": "p", "type": "quantitative", "format": ".3f"}
}
},
{
"data": {"name": "arrow"},
"mark": {"type": "line", "color": "#000000", "strokeWidth": 4.5, "strokeCap": "round", "strokeJoin": "round", "clip": false},
"encoding": {
"x": {"field": "n", "type": "quantitative"},
"y": {"field": "p", "type": "quantitative"},
"detail": {"field": "seg", "type": "nominal"},
"order": {"field": "k", "type": "quantitative"}
}
}
]
}
